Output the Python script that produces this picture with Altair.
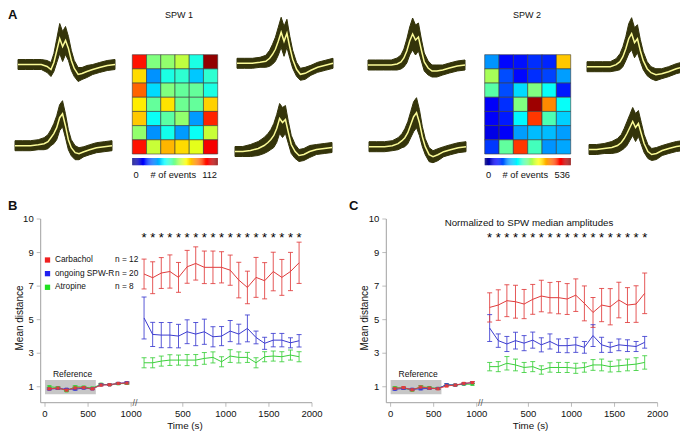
import altair as alt
import pandas as pd

FONT = "Liberation Sans"
M = 8          # page margin
W, H = 672, 423

# ---------------- Panel A : heat maps ----------------
SPW1_COUNTS = [
    [96, 56, 58, 63, 45, 110],
    [74, 30, 45, 47, 36, 47],
    [87, 38, 56, 53, 53, 45],
    [72, 53, 73, 54, 53, 75],
    [76, 43, 52, 58, 31, 94],
    [58, 30, 44, 31, 43, 64],
    [96, 64, 78, 74, 67, 99],
]
SPW1_MAX = 112
SPW2_COUNTS = [
    [145, 70, 75, 91, 86, 364],
    [289, 107, 70, 91, 102, 150],
    [247, 107, 182, 268, 204, 80],
    [64, 91, 268, 520, 397, 204],
    [64, 80, 198, 440, 241, 177],
    [54, 64, 150, 166, 166, 150],
    [96, 252, 440, 236, 145, 155],
]
SPW2_MAX = 536
JET_STOPS = [0, 0.125, 0.375, 0.625, 0.875, 1.0]
JET_COLORS = ["#000080", "#0000ff", "#00ffff", "#ffff00", "#ff0000", "#800000"]

# ---------------- Panel A : waveforms (amplitude, px above baseline) ----------------
WAVE_X = [0, .08, .16, .24, .30, .34, .37, .40, .43, .46, .49, .52, .55, .58, .62, .66, .71, .77, .84, .92, 1.0]
SPW1_TL = [0, 0, 0, 0, -2, -5, 2, 14, 26, 18, 24, 16, 4, -4, -10, -9, -7, -5, -3, -1, 0]
SPW1_TL_SD = [5, 5, 5, 5, 6, 7, 9, 12, 15, 15, 14, 12, 10, 8, 7, 6, 6, 5, 5, 5, 5]
SPW1_BL = [0, 0, 0, 1, 2, 4, 8, 12, 18, 28, 32, 20, 6, -2, -7, -8, -6, -4, -2, -1, 0]
SPW1_BL_SD = [5, 5, 5, 5, 6, 7, 8, 10, 12, 13, 13, 12, 10, 8, 7, 6, 5, 5, 5, 5, 5]
SPW1_TR = [0, 0, 0, 1, 2, 5, 9, 14, 22, 31, 22, 30, 16, 4, -6, -11, -10, -7, -4, -2, 0]
SPW1_TR_SD = [5, 5, 5, 5, 6, 8, 10, 12, 14, 15, 15, 14, 11, 9, 7, 6, 6, 5, 5, 5, 5]
SPW1_BR = [-3, -3, -2, 0, 3, 6, 9, 13, 20, 30, 26, 29, 16, 4, -3, -7, -6, -3, -1, 0, 1]
SPW1_BR_SD = [5, 5, 6, 7, 8, 9, 10, 12, 14, 15, 15, 14, 11, 9, 7, 6, 6, 6, 5, 5, 5]
SPW2_TL = [0, 0, 0, 0, 1, 3, 7, 14, 24, 31, 25, 28, 15, 3, -3, -6, -6, -5, -3, -1, 0]
SPW2_TL_SD = [5, 5, 5, 5, 6, 7, 9, 12, 14, 16, 15, 14, 11, 9, 7, 6, 6, 5, 5, 5, 5]
SPW2_BL = [0, 0, 0, 1, 3, 6, 9, 14, 22, 30, 34, 24, 10, 0, -8, -10, -8, -5, -3, -1, 0]
SPW2_BL_SD = [5, 5, 5, 5, 6, 7, 9, 11, 13, 15, 15, 13, 10, 8, 7, 6, 6, 5, 5, 5, 5]
SPW2_TR = [0, 0, 0, 0, 2, 5, 10, 18, 28, 33, 24, 28, 16, 6, -2, -6, -8, -7, -5, -2, 0]
SPW2_TR_SD = [5, 5, 5, 5, 6, 8, 10, 12, 15, 16, 15, 14, 11, 9, 7, 6, 6, 5, 5, 5, 5]
SPW2_BR = [-2, -2, -1, 0, 2, 5, 9, 14, 20, 26, 20, 24, 14, 4, -4, -7, -6, -3, -1, 1, 2]
SPW2_BR_SD = [5, 5, 5, 6, 7, 8, 10, 12, 13, 14, 14, 13, 11, 9, 7, 6, 6, 5, 5, 5, 5]

# ---------------- Panels B and C ----------------
SERIES = ["Carbachol", "ongoing SPW-R", "Atropine"]
SERIES_N = ["n = 12", "n = 20", "n = 8"]
T_REF = [50, 150, 250, 350, 450, 550, 650, 750, 850, 950]
T_DRUG = [50, 150, 250, 350, 450, 550, 650, 750, 850, 950,
          1050, 1150, 1250, 1350, 1450, 1550, 1650, 1750, 1850]

B_CARB_REF = [0.88, 0.92, 0.80, 0.93, 0.95, 0.88, 1.10, 1.12, 1.20, 1.22]
B_SPWR_REF = [0.86, 0.90, 0.85, 0.86, 0.92, 0.88, 1.12, 1.12, 1.20, 1.25]
B_ATRO_REF = [1.00, 0.95, 0.76, 1.00, 0.98, 0.92, 1.15, 1.12, 1.18, 1.20]
REF_ERR = [0.05, 0.05, 0.05, 0.06, 0.05, 0.05, 0.05, 0.04, 0.04, 0.05]

B_CARB = [7.72, 7.50, 7.78, 7.87, 7.52, 8.15, 8.35, 8.12, 8.12, 8.12, 7.95, 7.36, 6.92, 7.52, 7.32, 7.87, 7.52, 7.87, 8.39]
B_CARB_ERR = [0.89, 0.95, 0.92, 0.99, 0.89, 0.98, 0.99, 0.97, 0.97, 0.93, 0.90, 1.06, 0.97, 1.19, 1.08, 1.15, 1.07, 1.14, 1.23]
B_SPWR = [5.10, 4.12, 4.08, 4.08, 4.02, 4.28, 4.14, 4.28, 3.98, 4.02, 4.32, 4.14, 4.48, 3.94, 3.59, 3.78, 3.78, 3.62, 3.74]
B_SPWR_ERR = [1.25, 0.72, 0.75, 0.75, 0.70, 0.71, 0.69, 0.75, 0.60, 0.57, 0.63, 0.59, 0.80, 0.38, 0.36, 0.40, 0.40, 0.30, 0.37]
B_ATRO = [2.43, 2.43, 2.53, 2.59, 2.59, 2.59, 2.59, 2.69, 2.75, 2.49, 2.83, 2.75, 2.75, 2.43, 2.79, 2.83, 2.79, 2.89, 2.79]
B_ATRO_ERR = [0.30, 0.30, 0.30, 0.32, 0.30, 0.33, 0.33, 0.35, 0.33, 0.30, 0.38, 0.33, 0.30, 0.30, 0.30, 0.30, 0.30, 0.30, 0.30]

C_CARB_REF = [0.90, 0.95, 0.82, 0.98, 0.92, 0.88, 1.05, 1.10, 1.20, 1.25]
C_SPWR_REF = [0.85, 0.90, 0.85, 0.88, 0.90, 0.90, 1.12, 1.10, 1.18, 1.25]
C_ATRO_REF = [0.95, 0.92, 0.80, 1.00, 0.95, 0.90, 1.12, 1.10, 1.15, 1.15]

C_CARB = [5.73, 5.87, 6.13, 6.07, 5.93, 6.21, 6.41, 6.31, 6.31, 6.23, 6.46, 5.97, 5.43, 5.87, 5.77, 6.17, 5.87, 5.93, 6.57]
C_CARB_ERR = [0.87, 0.91, 0.95, 0.98, 0.87, 0.89, 0.94, 0.91, 0.96, 0.92, 0.97, 1.04, 0.89, 0.99, 1.08, 1.06, 1.04, 1.09, 1.21]
C_SPWR = [4.50, 3.75, 3.55, 3.75, 3.60, 3.78, 3.50, 3.70, 3.45, 3.45, 3.50, 3.35, 4.05, 3.50, 3.35, 3.50, 3.45, 3.40, 3.65]
C_SPWR_ERR = [0.80, 0.40, 0.45, 0.50, 0.45, 0.48, 0.42, 0.45, 0.40, 0.42, 0.45, 0.35, 0.65, 0.45, 0.30, 0.35, 0.35, 0.30, 0.35]
C_ATRO = [2.20, 2.20, 2.40, 2.30, 2.15, 2.20, 2.00, 2.15, 2.15, 2.15, 2.10, 2.15, 2.30, 2.30, 2.20, 2.25, 2.30, 2.35, 2.45]
C_ATRO_ERR = [0.25, 0.30, 0.40, 0.35, 0.30, 0.30, 0.25, 0.28, 0.30, 0.30, 0.30, 0.28, 0.32, 0.35, 0.32, 0.35, 0.35, 0.38, 0.40]

X_TICKS = [0, 500, 1000, 500, 1000, 1500, 2000]
Y_TICKS = [1, 3, 5, 7, 9, 10]
REF_BOX = [0, 590, 0.55, 1.40]

# ---------------- styling / layout ----------------
OLIVE = "#34340a"
YELLOW = "#fbfb98"
AXIS_GRAY = "#a0a0a0"
LINE_COLORS = ["#e03c3c", "#3c3cd0", "#3cd03c"]
LEGEND_COLORS = ["#f02020", "#2020f0", "#20e020"]
DRUG_SHIFT = 1100  # x position of the second (broken) time axis segment
X_LO, X_HI, Y_LO, Y_HI = -50, 3100, 0.05, 11


def jet_scale(vmax):
    return alt.Scale(type="linear", domain=[s * vmax for s in JET_STOPS],
                     range=JET_COLORS, interpolate="rgb", clamp=True)


def text_at(txt, x, y, size=10, weight="normal", align="center", baseline="middle", angle=0):
    return alt.Chart(pd.DataFrame({"t": [txt]})).mark_text(
        font=FONT, fontSize=size, fontWeight=weight, align=align, baseline=baseline,
        angle=angle, color="#111").encode(text="t:N", x=alt.value(x - M), y=alt.value(y - M))


def waveform(mean, sd, x0, x1, base):
    df = pd.DataFrame({"x": WAVE_X, "m": mean, "s": sd})
    xs = alt.Scale(domain=[0, 1], range=[x0 - M, x1 - M], nice=False, zero=False)
    ys = alt.Scale(domain=[-50, 50], range=[base + 50 - M, base - 50 - M], nice=False, zero=False)
    band = alt.Chart(df).transform_calculate(lo="datum.m - datum.s", hi="datum.m + datum.s").mark_area(
        color=OLIVE, stroke=OLIVE, strokeWidth=1).encode(
        x=alt.X("x:Q", scale=xs, axis=None), y=alt.Y("lo:Q", scale=ys, axis=None), y2="hi:Q")
    line = alt.Chart(df).mark_line(color=YELLOW, strokeWidth=1.5).encode(
        x=alt.X("x:Q", scale=xs, axis=None), y=alt.Y("m:Q", scale=ys, axis=None))
    return alt.layer(band, line)


def heatmap(counts, vmax, x0, x1, y0, y1):
    rows = [{"col": c, "row": r, "v": v} for r, row in enumerate(counts) for c, v in enumerate(row)]
    df = pd.DataFrame(rows)
    xs = alt.Scale(domain=[0, 6], range=[x0 - M, x1 - M], nice=False, zero=False)
    ys = alt.Scale(domain=[0, 7], range=[y0 - M, y1 - M], nice=False, zero=False)
    return alt.Chart(df).transform_calculate(c2="datum.col + 1", r2="datum.row + 1").mark_rect(
        stroke="#3a3a3a", strokeWidth=0.6).encode(
        x=alt.X("col:Q", scale=xs, axis=None), x2="c2:Q",
        y=alt.Y("row:Q", scale=ys, axis=None), y2="r2:Q",
        color=alt.Color("v:Q", scale=jet_scale(vmax), legend=None))


def colorbar(vmax, x0, x1, y0, y1):
    step = 1 / 80
    xs = alt.Scale(domain=[0, 1], range=[x0 - M, x1 - M], nice=False, zero=False)
    return alt.Chart(alt.sequence(0, 1, step, as_="f")).transform_calculate(
        f2=f"datum.f + {step * 1.05}", v=f"datum.f * {vmax}").mark_rect(strokeWidth=0).encode(
        x=alt.X("f:Q", scale=xs, axis=None), x2="f2:Q",
        y=alt.value(y0 - M), y2=alt.value(y1 - M),
        color=alt.Color("v:Q", scale=jet_scale(vmax), legend=None))


def panel(dx, ref_vals, drug_vals, drug_errs):
    recs = []
    # draw order: Atropine first, Carbachol on top
    for s, rv, dv, de in reversed(list(zip(SERIES, ref_vals, drug_vals, drug_errs))):
        for t, m, e in zip(T_REF, rv, REF_ERR):
            recs.append({"series": s, "seg": "ref", "tv": t, "m": m, "e": e})
        for t, m, e in zip(T_DRUG, dv, de):
            recs.append({"series": s, "seg": "drug", "tv": t + DRUG_SHIFT, "m": m, "e": e})
    df = pd.DataFrame(recs)
    xs = alt.Scale(domain=[X_LO, X_HI], range=[40.7 - M + dx, 312 - M + dx], nice=False, zero=False)
    ys = alt.Scale(domain=[Y_LO, Y_HI], range=[402.7 - M, 219 - M], nice=False, zero=False)
    cs = alt.Scale(domain=SERIES, range=LINE_COLORS)
    enc_x = alt.X("tv:Q", scale=xs, axis=None)
    col = alt.Color("series:N", scale=cs, legend=None)
    one = pd.DataFrame({"a": [0]})

    # --- axes, drawn through the panel scales ---
    xt = pd.DataFrame({"pos": [v if i < 3 else v + DRUG_SHIFT for i, v in enumerate(X_TICKS)],
                       "lab": [str(v) for v in X_TICKS]})
    yt = pd.DataFrame({"pos": [v if v < 10 else Y_HI for v in Y_TICKS],
                       "lab": [str(v) for v in Y_TICKS]})
    x_dom = alt.Chart(one).mark_rule(color=AXIS_GRAY, strokeWidth=1).encode(
        x=alt.X(datum=X_LO, scale=xs, axis=None), x2=alt.datum(X_HI),
        y=alt.Y(datum=Y_LO, scale=ys, axis=None))
    y_dom = alt.Chart(one).mark_rule(color=AXIS_GRAY, strokeWidth=1).encode(
        x=alt.X(datum=X_LO, scale=xs, axis=None),
        y=alt.Y(datum=Y_LO, scale=ys, axis=None), y2=alt.datum(Y_HI))
    x_tk = alt.Chart(xt).mark_tick(orient="vertical", size=4, thickness=1, yOffset=2,
                                   color=AXIS_GRAY).encode(
        x=alt.X("pos:Q", scale=xs, axis=None), y=alt.Y(datum=Y_LO, scale=ys, axis=None))
    y_tk = alt.Chart(yt).mark_tick(orient="horizontal", size=4, thickness=1, xOffset=-2,
                                   color=AXIS_GRAY).encode(
        x=alt.X(datum=X_LO, scale=xs, axis=None), y=alt.Y("pos:Q", scale=ys, axis=None))
    x_lb = alt.Chart(xt).mark_text(font=FONT, fontSize=9.5, color="#111", dy=11.5).encode(
        x=alt.X("pos:Q", scale=xs, axis=None), y=alt.Y(datum=Y_LO, scale=ys, axis=None), text="lab:N")
    y_lb = alt.Chart(yt).mark_text(font=FONT, fontSize=9.5, color="#111", align="right", dx=-7).encode(
        x=alt.X(datum=X_LO, scale=xs, axis=None), y=alt.Y("pos:Q", scale=ys, axis=None), text="lab:N")

    box = alt.Chart(one).mark_rect(color="#c6c6c6").encode(
        x=alt.X(datum=REF_BOX[0], scale=xs, axis=None), x2=alt.datum(REF_BOX[1]),
        y=alt.Y(datum=REF_BOX[2], scale=ys, axis=None), y2=alt.datum(REF_BOX[3]))
    ref_lbl = alt.Chart(one).mark_text(text="Reference", font=FONT, fontSize=8.5, color="#111").encode(
        x=alt.X(datum=320, scale=xs, axis=None), y=alt.Y(datum=1.74, scale=ys, axis=None))
    base = alt.Chart(df).transform_calculate(lo="datum.m - datum.e", hi="datum.m + datum.e")
    rules = base.mark_rule(strokeWidth=1, opacity=0.85).encode(
        x=enc_x, y=alt.Y("lo:Q", scale=ys, axis=None), y2="hi:Q", color=col)
    cap_lo = base.mark_tick(orient="horizontal", size=5, thickness=1, opacity=0.85).encode(
        x=enc_x, y=alt.Y("lo:Q", scale=ys, axis=None), color=col)
    cap_hi = base.mark_tick(orient="horizontal", size=5, thickness=1, opacity=0.85).encode(
        x=enc_x, y=alt.Y("hi:Q", scale=ys, axis=None), color=col)
    lines = alt.Chart(df).mark_line(strokeWidth=1).encode(
        x=enc_x, y=alt.Y("m:Q", scale=ys, axis=None), color=col, detail="seg:N")
    marks = alt.Chart(df).transform_filter("datum.seg == 'ref'").mark_square(size=10, opacity=1).encode(
        x=enc_x, y=alt.Y("m:Q", scale=ys, axis=None), color=col)
    stars_df = pd.DataFrame({"tv": [t + DRUG_SHIFT for t in T_DRUG]})
    stars = alt.Chart(stars_df).mark_text(text="*", font=FONT, fontSize=13, color="black", dy=3).encode(
        x=alt.X("tv:Q", scale=xs, axis=None), y=alt.Y(datum=10.05, scale=ys, axis=None))
    brk = alt.Chart(one).mark_text(text="//", font=FONT, fontSize=9, color="#555").encode(
        x=alt.X(datum=1045, scale=xs, axis=None), y=alt.Y(datum=Y_LO, scale=ys, axis=None))
    return alt.layer(x_dom, y_dom, x_tk, y_tk, x_lb, y_lb, box, ref_lbl, rules, cap_lo, cap_hi,
                     lines, marks, stars, brk)


legend_df = pd.DataFrame({"label": SERIES, "n": SERIES_N, "i": [0, 1, 2]})
leg_y = alt.Scale(domain=[0, 2], range=[260 - M, 287.3 - M], nice=False, zero=False)
leg_sq = alt.Chart(legend_df).mark_square(size=28, opacity=1).encode(
    x=alt.value(47.5 - M), y=alt.Y("i:Q", scale=leg_y, axis=None),
    color=alt.Color("label:N", scale=alt.Scale(domain=SERIES, range=LEGEND_COLORS), legend=None))
leg_txt = alt.Chart(legend_df).mark_text(font=FONT, fontSize=8.3, align="left", color="#111").encode(
    x=alt.value(55 - M), y=alt.Y("i:Q", scale=leg_y, axis=None), text="label:N")
leg_n = alt.Chart(legend_df).mark_text(font=FONT, fontSize=8.3, align="left", color="#111").encode(
    x=alt.value(115 - M), y=alt.Y("i:Q", scale=leg_y, axis=None), text="n:N")
legend = alt.layer(leg_sq, leg_txt, leg_n)

groups = [
    panel(0, [B_CARB_REF, B_SPWR_REF, B_ATRO_REF], [B_CARB, B_SPWR, B_ATRO],
          [B_CARB_ERR, B_SPWR_ERR, B_ATRO_ERR]),
    panel(345.6, [C_CARB_REF, C_SPWR_REF, C_ATRO_REF], [C_CARB, C_SPWR, C_ATRO],
          [C_CARB_ERR, C_SPWR_ERR, C_ATRO_ERR]),
    text_at("Time (s)", 185, 426, size=9.8),
    text_at("Time (s)", 530.6, 426, size=9.8),
    text_at("Mean distance", 20, 318, size=10, angle=270),
    text_at("Mean distance", 365, 318, size=10, angle=270),
    waveform(SPW1_TL, SPW1_TL_SD, 18, 115, 64.5),
    waveform(SPW1_BL, SPW1_BL_SD, 15, 112, 145.7),
    waveform(SPW1_TR, SPW1_TR_SD, 237, 333, 63.3),
    waveform(SPW1_BR, SPW1_BR_SD, 235, 332, 148.5),
    waveform(SPW2_TL, SPW2_TL_SD, 368, 465, 65),
    waveform(SPW2_BL, SPW2_BL_SD, 369, 466, 146.7),
    waveform(SPW2_TR, SPW2_TR_SD, 587, 684, 66.7),
    waveform(SPW2_BR, SPW2_BR_SD, 589, 684, 147.5),
    heatmap(SPW1_COUNTS, SPW1_MAX, 132.3, 217.7, 54.7, 154),
    heatmap(SPW2_COUNTS, SPW2_MAX, 484.7, 570.7, 54.7, 154),
    colorbar(SPW1_MAX, 132.3, 217.7, 158, 165.3),
    colorbar(SPW2_MAX, 484.7, 570.7, 158, 165.3),
    text_at("SPW 1", 179, 15, size=9),
    text_at("SPW 2", 527, 15, size=9),
    text_at("0", 133.5, 174.7, size=9.3, align="left"),
    text_at("# of events", 173.3, 174.7, size=9.3),
    text_at(str(SPW1_MAX), 217, 174.7, size=9.3, align="right"),
    text_at("0", 486, 174.7, size=9.3, align="left"),
    text_at("# of events", 525.3, 174.7, size=9.3),
    text_at(str(SPW2_MAX), 570, 174.7, size=9.3, align="right"),
    legend,
    text_at("Normalized to SPW median amplitudes", 529, 222.7, size=9.7),
    text_at("A", 8, 18.5, size=13, weight="bold", align="left", baseline="alphabetic"),
    text_at("B", 8, 210, size=13, weight="bold", align="left", baseline="alphabetic"),
    text_at("C", 349, 210, size=13, weight="bold", align="left", baseline="alphabetic"),
]

chart = alt.layer(*groups).resolve_scale(
    x="independent", y="independent", color="independent"
).properties(
    width=W, height=H, autosize=alt.AutoSizeParams(type="none"), padding=0
).configure(background="white", view=alt.ViewConfig(stroke=None))

chart.save("out.html", embed_options={"renderer": "svg", "actions": False})
